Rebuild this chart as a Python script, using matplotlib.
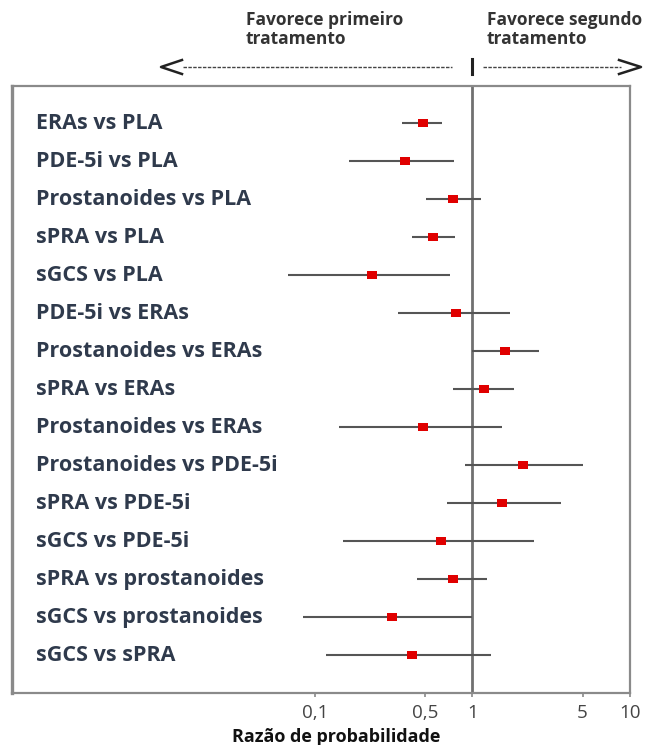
import matplotlib.pyplot as plt
import numpy as np
from matplotlib.path import Path
from matplotlib.lines import Line2D

plt.rcParams['font.family'] = ['Open Sans', 'DejaVu Sans']

# comparisons, top to bottom
labels = ['ERAs vs PLA', 'PDE-5i vs PLA', 'Prostanoides vs PLA', 'sPRA vs PLA',
          'sGCS vs PLA', 'PDE-5i vs ERAs', 'Prostanoides vs ERAs', 'sPRA vs ERAs',
          'Prostanoides vs ERAs', 'Prostanoides vs PDE-5i', 'sPRA vs PDE-5i',
          'sGCS vs PDE-5i', 'sPRA vs prostanoides', 'sGCS vs prostanoides',
          'sGCS vs sPRA']
odds = [0.485, 0.373, 0.757, 0.565, 0.231, 0.787, 1.62, 1.19, 0.485, 2.09,
        1.54, 0.631, 0.749, 0.308, 0.413]
ci_low = [0.359, 0.166, 0.505, 0.411, 0.0673, 0.336, 0.99, 0.753, 0.143, 0.903,
          0.69, 0.150, 0.445, 0.0847, 0.118]
ci_high = [0.645, 0.764, 1.14, 0.78, 0.717, 1.73, 2.64, 1.84, 1.55, 5.05,
           3.63, 2.46, 1.245, 1.0, 1.32]
tick_vals = [0.1, 0.5, 1, 5, 10]
tick_text = ['0,1', '0,5', '1', '5', '10']

W, H = 653, 745
fig = plt.figure(figsize=(W / 100, H / 100), dpi=100)
ax = fig.add_axes([12 / W, 1 - 693 / H, 618 / W, 607 / H])

y = np.arange(1, len(labels) + 1)

# rectangle marker, a bit wider than tall
rect = Path([(-0.7, -0.5), (0.7, -0.5), (0.7, 0.5), (-0.7, 0.5), (-0.7, -0.5)],
            [Path.MOVETO, Path.LINETO, Path.LINETO, Path.LINETO, Path.CLOSEPOLY])

ax.axvline(1, color='#707070', lw=2.0, zorder=1)
ax.hlines(y, ci_low, ci_high, color='#555555', lw=1.5, zorder=2)
ax.plot(odds, y, linestyle='none', marker=rect, markersize=7.3,
        color='#e00000', markeredgewidth=0, zorder=3)

for yi, lab in zip(y, labels):
    ax.text(0.0017, yi, lab, ha='left', va='center', fontsize=15.5,
            fontweight='bold', color='#2f3a4c')

ax.set_xscale('log')
ax.set_xlim(0.0012, 10)
ax.set_ylim(16.0, 0.02)
ax.set_yticks([])
ax.set_xticks(tick_vals)
ax.set_xticklabels(tick_text, fontsize=13.5, color='#444444')
ax.xaxis.set_minor_locator(plt.NullLocator())
ax.tick_params(axis='x', length=3, width=1.2, color='#888888', pad=5)

for s in ax.spines.values():
    s.set_color('#8a8a8a')
    s.set_linewidth(1.6)
ax.spines['left'].set_linewidth(2.4)

ax.set_xlabel('Razão de probabilidade', fontsize=13, fontweight='bold',
              color='#111111')
ax.xaxis.set_label_coords(0.525, -0.057)

# header: favoured treatment
fig.text(246 / W, 1 - 11 / H, 'Favorece primeiro\ntratamento', ha='left',
         va='top', fontsize=12.5, fontweight='bold', color='#333333',
         linespacing=1.05)
fig.text(487 / W, 1 - 11 / H, 'Favorece segundo\ntratamento', ha='left',
         va='top', fontsize=12.5, fontweight='bold', color='#333333',
         linespacing=1.05)

ya = 1 - 67 / H
dash = (0, (2.5, 1))
fig.add_artist(Line2D([183 / W, 452 / W], [ya, ya], transform=fig.transFigure,
                      color='#444444', lw=1, linestyle=dash))
fig.add_artist(Line2D([483 / W, 621 / W], [ya, ya], transform=fig.transFigure,
                      color='#444444', lw=1, linestyle=dash))
# chevrons
fig.add_artist(Line2D([182 / W, 161 / W, 182 / W],
                      [1 - 60 / H, ya, 1 - 74 / H], transform=fig.transFigure,
                      color='#222222', lw=1.8))
fig.add_artist(Line2D([619 / W, 641 / W, 619 / W],
                      [1 - 60 / H, ya, 1 - 74 / H], transform=fig.transFigure,
                      color='#222222', lw=1.8))
fig.add_artist(Line2D([472 / W, 472 / W], [1 - 59 / H, 1 - 74 / H],
                      transform=fig.transFigure, color='#222222', lw=2.2))

fig.savefig('out.png', dpi=100)
